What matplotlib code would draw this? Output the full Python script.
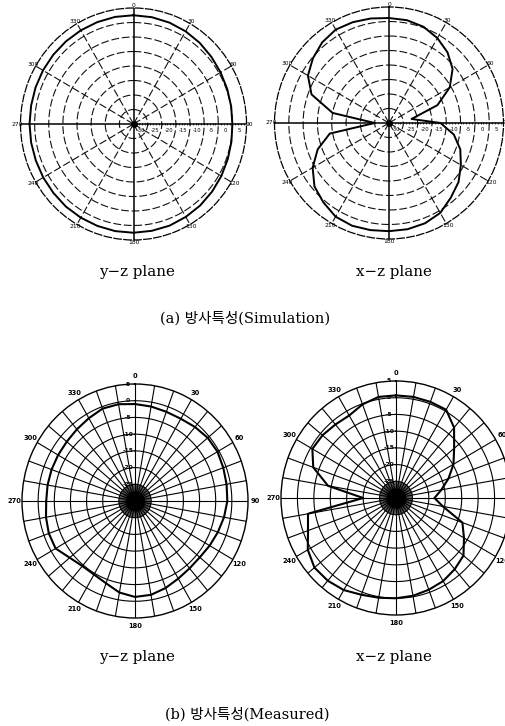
import numpy as np
import matplotlib
matplotlib.use("Agg")
import matplotlib.pyplot as plt

# ---------------- data (dB) ----------------
angles_deg = list(range(0, 360, 10))

# (a) simulation, y-z plane (nearly omnidirectional)
sim_yz = [2.5, 2.4, 2.2, 1.9, 1.5, 1.0, 0.6, 0.3, 0.1, 0.0, 0.2, 0.5,
          0.9, 1.3, 1.7, 2.0, 2.3, 2.4, 2.5, 2.5, 2.4, 2.3, 2.2, 2.0,
          1.9, 1.8, 1.8, 1.8, 1.8, 1.9, 2.0, 2.1, 2.2, 2.3, 2.4, 2.5]

# (a) simulation, x-z plane (figure-eight)
sim_xz = [1.2, 1.0, 0.3, -1.2, -3.2, -6.0, -10.5, -17.0, -27.0, -17.0, -12.0, -8.5,
          -6.0, -3.3, -1.4, 0.8, 1.8, 2.2, 2.3, 2.5, 2.7, 2.3, 0.7, -1.0,
          -4.2, -8.5, -14.0, -30.0, -15.0, -6.2, -2.3, -0.3, 1.3, 2.2, 2.0, 1.6]

# (b) measured, y-z plane
meas_yz = [-1.0, -1.3, -1.6, -1.6, -1.1, -0.6, -0.5, -0.9, -1.2, -1.4, -2.0, -2.7,
           -3.3, -3.8, -3.7, -3.2, -2.3, -1.5, -1.3, -2.2, -3.8, -4.6, -4.6, -3.6,
           -1.6, -1.6, -2.0, -2.5, -2.5, -2.5, -2.5, -2.4, -2.0, -1.4, -0.6, -0.6]

# (b) measured, x-z plane
meas_xz = [0.7, 0.7, 0.6, 0.5, -2.5, -6.9, -9.8, -13.0, -16.0, -18.3, -15.5, -8.5,
           -6.1, -3.2, -2.2, -1.3, -0.8, -0.3, 0.0, 0.3, 0.8, 1.8, 2.3, 2.4,
           1.0, -1.5, -2.8, -20.0, -9.0, -3.2, -0.6, -0.8, -1.3, -1.5, -0.2, 0.7]

angle_labels = ["0", "30", "60", "90", "120", "150", "180", "210", "240", "270", "300", "330"]
sim_rings = [-30, -25, -20, -15, -10, -5, 0, 5]
meas_rings = [-25, -20, -15, -10, -5, 0, 5]

subplot_titles = ["y\u2212z plane", "x\u2212z plane"]
captions = ["(a) 방사특성(Simulation)", "(b) 방사특성(Measured)"]

FAM = ["DejaVu Serif", "Noto Sans CJK KR"]

W, H = 505, 726
fig = plt.figure(figsize=(W / 100, H / 100), dpi=100)
fig.patch.set_facecolor("white")


def make_axes(cx, cy, rx, ry):
    ax = fig.add_axes([(cx - rx) / W, (H - cy - ry) / H, 2 * rx / W, 2 * ry / H],
                      projection="polar")
    ax.set_aspect("auto")
    ax.set_theta_zero_location("N")
    ax.set_theta_direction(-1)
    ax.grid(False)
    ax.set_xticks([])
    ax.set_yticks([])
    ax.set_facecolor("none")
    return ax


full = np.linspace(0, 2 * np.pi, 361)
DASH = (0, (7, 2.5))


def sim_axes(cx, cy, rx, ry, data):
    rmin, rmax = -35, 5
    ax = make_axes(cx, cy, rx, ry)
    ax.set_ylim(rmin, rmax)
    ax.spines["polar"].set_linestyle((0, (6, 2)))
    ax.spines["polar"].set_linewidth(0.9)
    for r in sim_rings[:-1]:
        ax.plot(full, np.full_like(full, r), color="#111111", lw=0.8, ls=DASH)
    for a in range(0, 360, 30):
        th = np.deg2rad(a)
        if a % 90 == 0:
            ax.plot([th, th], [rmin, rmax], color="black", lw=1.1)
        else:
            ax.plot([th, th], [rmin, rmax], color="#111111", lw=0.8, ls=DASH)
    # dotted tick row along the 90 deg axis
    ticks_r = np.arange(-33, 5.1, 1.0)
    ax.plot(np.full_like(ticks_r, np.pi / 2), ticks_r, ls="none", marker="|",
            ms=2.0, mew=0.5, color="black")
    ax.plot([0], [rmin], marker="o", ms=4, color="black")
    th = np.deg2rad(angles_deg + [360])
    ax.plot(th, data + [data[0]], color="black", lw=1.4)
    for i, lab in enumerate(angle_labels):
        t = np.deg2rad(i * 30)
        ax.text(t, rmax + 1.0, lab, fontsize=4.3, ha="center", va="center",
                clip_on=False, family="DejaVu Sans")
    for r in sim_rings:
        ax.annotate(str(r), xy=(np.pi / 2, r), xytext=(-5, -5),
                    textcoords="offset points", fontsize=3.8,
                    ha="center", va="center", family="DejaVu Sans")
    return ax


def meas_axes(cx, cy, rx, ry, data):
    rmin, rmax = -30, 5
    ax = make_axes(cx, cy, rx, ry)
    ax.set_ylim(rmin, rmax)
    ax.spines["polar"].set_linewidth(1.0)
    for r in meas_rings[:-1]:
        ax.plot(full, np.full_like(full, r), color="black", lw=0.8)
    for a in range(0, 360, 10):
        th = np.deg2rad(a)
        ax.plot([th, th], [rmin, rmax], color="black", lw=0.8)
    for a in np.arange(0, 360, 2.5):
        th = np.deg2rad(a)
        ax.plot([th, th], [rmin, -25], color="black", lw=0.35)
    ax.fill_between(full, rmin, -27.0, color="black", lw=0)
    th = np.deg2rad(angles_deg + [360])
    ax.plot(th, data + [data[0]], color="black", lw=1.5)
    for i, lab in enumerate(angle_labels):
        t = np.deg2rad(i * 30)
        ax.text(t, rmax + 2.4, lab, fontsize=4.8, ha="center", va="center",
                clip_on=False, family="DejaVu Sans", fontweight="bold")
    for r in meas_rings:
        ax.annotate(str(r), xy=(0, r), xytext=(-5, 0), textcoords="offset points",
                    fontsize=4.3, ha="center", va="center", family="DejaVu Sans",
                    fontweight="bold")
    return ax


sim_axes(133.5, 124, 113, 116, sim_yz)
sim_axes(389, 123, 114.5, 116, sim_xz)
meas_axes(135, 501, 113, 117, meas_yz)
meas_axes(396, 498, 115, 117, meas_xz)

fig.text(137 / W, 1 - 272 / H, subplot_titles[0], fontsize=10.8, ha="center", va="center", family=FAM)
fig.text(394 / W, 1 - 272 / H, subplot_titles[1], fontsize=10.8, ha="center", va="center", family=FAM)
fig.text(245 / W, 1 - 318 / H, captions[0], fontsize=10.5, ha="center", va="center", family=FAM)
fig.text(137 / W, 1 - 657 / H, subplot_titles[0], fontsize=10.8, ha="center", va="center", family=FAM)
fig.text(394 / W, 1 - 657 / H, subplot_titles[1], fontsize=10.8, ha="center", va="center", family=FAM)
fig.text(247 / W, 1 - 714 / H, captions[1], fontsize=10.5, ha="center", va="center", family=FAM)

fig.savefig("out.png", dpi=100, facecolor="white")
